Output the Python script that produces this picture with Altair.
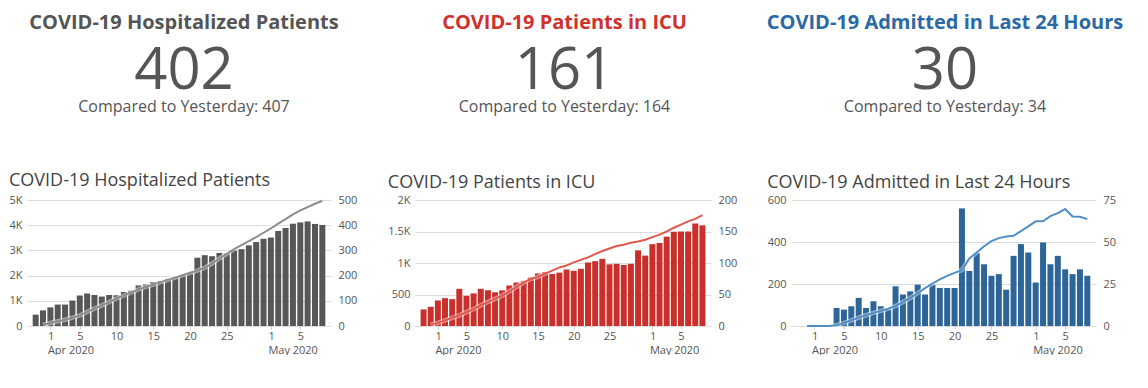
import altair as alt
import pandas as pd

# ---------------- data ----------------
dates = pd.date_range("2020-03-30", "2020-05-08", freq="D").strftime("%Y-%m-%d").tolist()
line_dates = dates[1:]

metrics = ["COVID-19 Hospitalized Patients", "COVID-19 Patients in ICU", "COVID-19 Admitted in Last 24 Hours"]
today_values = [402, 161, 30]
yesterday_values = [407, 164, 34]
title_colors = ["#555555", "#d0312d", "#2b69a6"]

hosp_bars = [450, 620, 740, 850, 850, 1010, 1210, 1290, 1230, 1170,
             1230, 1220, 1350, 1400, 1610, 1650, 1740, 1790, 1870, 1950,
             2030, 2100, 2710, 2810, 2770, 2900, 2880, 3000, 3050, 3200,
             3330, 3460, 3510, 3770, 3890, 4060, 4110, 4150, 4050, 4010]
hosp_line = [5, 12, 19, 25, 33, 42, 56, 69, 82, 95,
             109, 121, 133, 145, 155, 164, 174, 183, 192, 202,
             211, 220, 231, 248, 268, 286, 305, 321, 337, 353,
             370, 387, 406, 424, 443, 459, 472, 485, 497]

icu_bars = [263, 305, 405, 442, 426, 590, 479, 518, 590, 568,
            535, 566, 643, 690, 717, 770, 834, 858, 825, 847,
            897, 876, 908, 1008, 1029, 1066, 979, 987, 968, 987,
            1201, 1117, 1299, 1318, 1418, 1498, 1500, 1500, 1627, 1598]
icu_line = [2, 5, 9, 13, 17, 22, 27, 33, 38, 43,
            48, 55, 62, 69, 75, 78, 83, 88, 93, 96,
            101, 105, 109, 114, 119, 123, 127, 129, 132, 134,
            137, 141, 145, 150, 156, 161, 166, 170, 176]

adm_bars = [0, 0, 0, 0, 0, 86, 78, 94, 134, 86,
            118, 94, 78, 189, 150, 165, 197, 150, 197, 181,
            181, 181, 560, 262, 348, 294, 239, 247, 173, 334,
            390, 350, 207, 398, 294, 334, 270, 247, 270, 239]
adm_line = [0, 0, 0, 0, 0.4, 1.8, 3.4, 5, 6.4, 7.8,
            9, 10.3, 11.9, 14.3, 16.7, 19.5, 22.5, 25.3, 27.8, 29.8,
            31.6, 33.2, 40.2, 43.8, 47.5, 50.5, 52.3, 53.3, 53.7, 56.5,
            59.3, 62.3, 62.3, 65.4, 67.2, 69.6, 65.2, 65, 63.6]

x_tick_days = [(4, 1), (4, 5), (4, 10), (4, 15), (4, 20), (4, 25), (5, 1), (5, 5)]

FONT = "Open Sans"
LABEL = "#555555"

# ---------------- KPI row ----------------
kpi_df = pd.DataFrame({"metric": metrics, "today": today_values, "yesterday": yesterday_values})
kx = alt.X("metric:N", scale=alt.Scale(type="point", domain=metrics, padding=0.4126), axis=None)
kbase = alt.Chart(kpi_df).transform_calculate(
    compare="'Compared to Yesterday: ' + datum.yesterday"
)
k_title = kbase.mark_text(fontSize=20, fontWeight="bold", baseline="alphabetic", align="center", font=FONT).encode(
    x=kx, y=alt.value(20.5), text="metric:N",
    color=alt.Color("metric:N", scale=alt.Scale(domain=metrics, range=title_colors), legend=None),
)
k_num = kbase.mark_text(fontSize=58, baseline="alphabetic", align="center", color="#555555", font=FONT).encode(
    x=kx, y=alt.value(81), text="today:Q"
)
k_cmp = kbase.mark_text(fontSize=16, baseline="alphabetic", align="center", color="#555555", font=FONT).encode(
    x=kx, y=alt.value(104), text="compare:N"
)
kpi = alt.layer(k_title, k_num, k_cmp).properties(width=1075, height=118)


# ---------------- panels ----------------
def panel(title, bars, line, bar_color, line_color, left_max, left_ticks, right_max, right_ticks, width):
    bar_df = pd.DataFrame({"date": dates, "value": bars})
    line_df = pd.DataFrame({"date": line_dates, "value": line})
    xaxis = alt.Axis(
        values=[alt.DateTime(year=2020, month=m, date=d, utc=True) for m, d in x_tick_days],
        labelExpr="utcdate(datum.value) == 1 ? [utcFormat(datum.value, '%-d'), utcFormat(datum.value, '%b %Y')] : utcFormat(datum.value, '%-d')",
        labelAlign={"condition": {"test": "utcdate(datum.value) == 1", "value": "left"}, "value": "center"},
        labelOffset={"condition": {"test": "utcdate(datum.value) == 1", "value": -3}, "value": 0},
        labelLineHeight=14, labelOverlap=False, labelBound=False, labelFlush=False,
        grid=False, domain=False, ticks=True, tickColor="#cccccc", tickSize=3,
        labelPadding=1, labelFontSize=11, labelColor=LABEL, labelFont=FONT, title=None,
    )
    x = alt.X("date:T", axis=xaxis, scale=alt.Scale(
        type="utc",
        domain=[alt.DateTime(year=2020, month=3, date=29, hours=12, utc=True),
                alt.DateTime(year=2020, month=5, date=8, hours=12, utc=True)]))
    yl = alt.Y("value:Q", scale=alt.Scale(domain=[0, left_max], nice=False), axis=alt.Axis(
        values=left_ticks,
        labelExpr="datum.value == 0 ? '0' : replace(format(datum.value, '~s'), 'k', 'K')",
        grid=True, gridColor="#dddddd", gridWidth=1, domain=False, ticks=False,
        labelPadding=5, labelFontSize=11, labelColor=LABEL, labelFont=FONT, title=None))
    yr = alt.Y("value:Q", scale=alt.Scale(domain=[0, right_max], nice=False), axis=alt.Axis(
        orient="right", values=right_ticks, format="d",
        grid=False, domain=False, ticks=False,
        labelPadding=7, labelFontSize=11, labelColor=LABEL, labelFont=FONT, title=None))

    b = alt.Chart(bar_df).mark_bar(color=bar_color, width=6).encode(x=x, y=yl)
    halo = alt.Chart(line_df).mark_line(color="white", strokeWidth=4.5, opacity=0.45).encode(x=x, y=yr)
    ln = alt.Chart(line_df).mark_line(color=line_color, strokeWidth=2).encode(x=x, y=yr)
    return alt.layer(b, alt.layer(halo, ln)).resolve_scale(y="independent").properties(
        width=width, height=126,
        title=alt.TitleParams(title, anchor="start", fontSize=18, fontWeight="normal",
                              color="#444444", font=FONT, offset=2),
    )


p1 = panel(metrics[0], hosp_bars, hosp_line, "#575757", "#8c8c8c",
           5000, [0, 1000, 2000, 3000, 4000, 5000], 500, [0, 100, 200, 300, 400, 500], 304)
p2 = panel(metrics[1], icu_bars, icu_line, "#c9302b", "#e4574e",
           2000, [0, 500, 1000, 1500, 2000], 200, [0, 50, 100, 150, 200], 296)
p3 = panel(metrics[2], adm_bars, adm_line, "#2d6598", "#4f8fc6",
           600, [0, 200, 400, 600], 75, [0, 25, 50, 75], 305)

row = alt.hconcat(p1, p2, p3, spacing=30)

chart = alt.vconcat(kpi, row, spacing=45).properties(padding=0).configure(
    font=FONT
).configure_view(stroke=None)

chart.save("out.html", embed_options={"renderer": "svg", "actions": False})
